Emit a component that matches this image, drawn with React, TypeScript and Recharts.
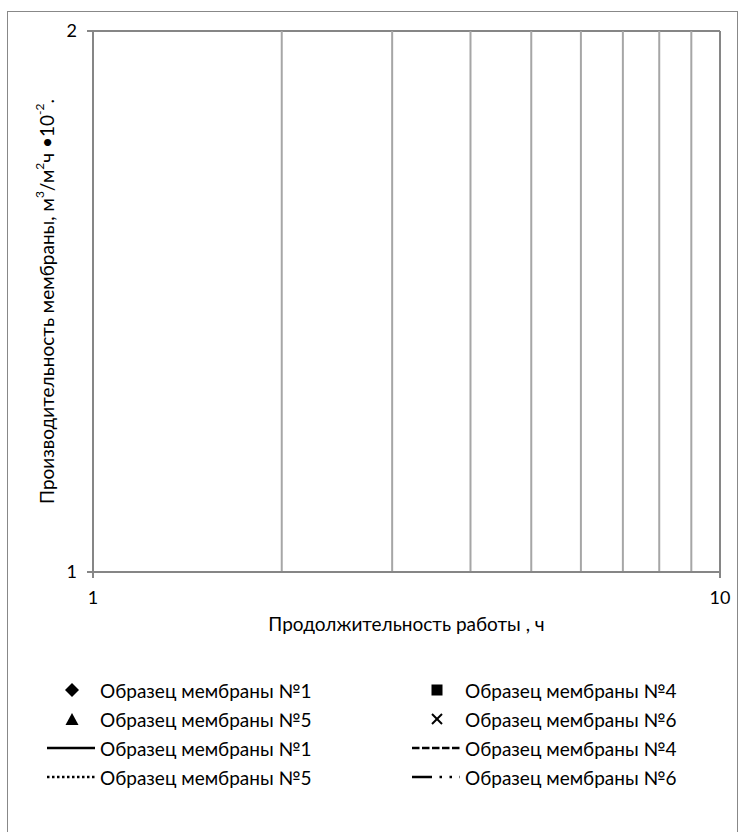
import React from 'react';
import {
  ComposedChart,
  Scatter,
  Line,
  XAxis,
  YAxis,
  CartesianGrid,
  ReferenceLine,
  Label,
} from 'recharts';

type Pt = { t: number; q: number };

// Series data (the reference plot shows no plotted values)
const sample1Points: Pt[] = [];
const sample4Points: Pt[] = [];
const sample5Points: Pt[] = [];
const sample6Points: Pt[] = [];
const sample1Trend: Pt[] = [];
const sample4Trend: Pt[] = [];
const sample5Trend: Pt[] = [];
const sample6Trend: Pt[] = [];

const xMajorTicks = [1, 10];
const xMinorTicks = [2, 3, 4, 5, 6, 7, 8, 9];
const yTicks = [1, 2];

const markerNames = [
  'Образец мембраны №1',
  'Образец мембраны №4',
  'Образец мембраны №5',
  'Образец мембраны №6',
];
const lineNames = [
  'Образец мембраны №1',
  'Образец мембраны №4',
  'Образец мембраны №5',
  'Образец мембраны №6',
];

const xTitle = 'Продолжительность работы , ч';

const FONT = 'Lato, Carlito, "Open Sans", sans-serif';
const FS = 19;
const TICK_FS = 18;
const AXIS = '#868686';
const MINOR = '#a6a6a6';

const markerData = [sample1Points, sample4Points, sample5Points, sample6Points];
const markerShapes = ['diamond', 'square', 'triangle', 'cross'] as const;
const lineData = [sample1Trend, sample4Trend, sample5Trend, sample6Trend];
const lineDashes = ['0', '7.5 2.5', '2.5 2.5', '20 7.5 2.5 7.5 2.5 7.5'];

function YTitle(props: any) {
  const vb = props.viewBox || { x: 0, y: 31, width: 93, height: 541 };
  const cx = vb.x + 46;
  const cy = vb.y + vb.height / 2;
  return (
    <text
      x={cx}
      y={cy}
      transform={`rotate(-90 ${cx} ${cy})`}
      textAnchor="middle"
      dominantBaseline="central"
      fontFamily={FONT}
      fontSize={FS}
      fill="#000"
    >
      <tspan>Производительность мембраны, м</tspan>
      <tspan dy={-7} fontSize={12}>3</tspan>
      <tspan dy={7}>/м</tspan>
      <tspan dy={-7} fontSize={12}>2</tspan>
      <tspan dy={7}>ч •10</tspan>
      <tspan dy={-7} fontSize={12}>-2</tspan>
      <tspan dy={7}>.</tspan>
    </text>
  );
}

function XTitle(props: any) {
  const vb = props.viewBox || { x: 93, y: 572, width: 627, height: 70 };
  return (
    <text
      x={vb.x + vb.width / 2}
      y={vb.y + 59}
      textAnchor="middle"
      fontFamily={FONT}
      fontSize={FS}
      fill="#000"
    >
      {xTitle}
    </text>
  );
}

function MarkerGlyph({ kind, cx, cy }: { kind: string; cx: number; cy: number }) {
  if (kind === 'diamond')
    return <polygon points={`${cx},${cy - 7} ${cx + 7},${cy} ${cx},${cy + 7} ${cx - 7},${cy}`} fill="#000" />;
  if (kind === 'square') return <rect x={cx - 5.5} y={cy - 5.5} width={11} height={11} fill="#000" />;
  if (kind === 'triangle')
    return <polygon points={`${cx},${cy - 6} ${cx + 6.5},${cy + 6} ${cx - 6.5},${cy + 6}`} fill="#000" />;
  return (
    <g stroke="#000" strokeWidth={2}>
      <line x1={cx - 5} y1={cy - 5} x2={cx + 5} y2={cy + 5} />
      <line x1={cx - 5} y1={cy + 5} x2={cx + 5} y2={cy - 5} />
    </g>
  );
}

function LegendBlock() {
  const colText = [100, 465];
  const rows = [690, 719, 748, 777];
  const items: React.ReactNode[] = [];
  markerNames.forEach((name, i) => {
    const col = i % 2;
    const row = Math.floor(i / 2);
    const tx = colText[col];
    const y = rows[row];
    items.push(
      <g key={'m' + i}>
        <MarkerGlyph kind={markerShapes[i]} cx={tx - 28} cy={y} />
        <text x={tx} y={y} dominantBaseline="central" fontFamily={FONT} fontSize={FS} fill="#000">
          {name}
        </text>
      </g>
    );
  });
  lineNames.forEach((name, i) => {
    const col = i % 2;
    const row = 2 + Math.floor(i / 2);
    const tx = colText[col];
    const y = rows[row];
    items.push(
      <g key={'l' + i}>
        <line
          x1={tx - 53}
          y1={y}
          x2={tx - 5}
          y2={y}
          stroke="#000"
          strokeWidth={2.5}
          strokeDasharray={lineDashes[i]}
        />
        <text x={tx} y={y} dominantBaseline="central" fontFamily={FONT} fontSize={FS} fill="#000">
          {name}
        </text>
      </g>
    );
  });
  return (
    <svg
      width={740}
      height={832}
      style={{ position: 'absolute', left: 0, top: 0, pointerEvents: 'none' }}
    >
      {items}
    </svg>
  );
}

export default function App() {
  return (
    <div
      style={{
        position: 'absolute',
        left: 0,
        top: 0,
        width: 740,
        height: 832,
        background: '#fff',
        overflow: 'hidden',
      }}
    >
      <div
        style={{
          position: 'absolute',
          left: 7,
          top: 11,
          width: 731,
          height: 840,
          border: '1px solid #888',
          boxSizing: 'border-box',
        }}
      />
      <div style={{ position: 'absolute', left: 0, top: 0 }}>
        <ComposedChart
          width={740}
          height={660}
          margin={{ top: 31, right: 20, left: 0, bottom: 18 }}
        >
          <CartesianGrid
            stroke={AXIS}
            strokeWidth={2}
            horizontalValues={yTicks}
            verticalValues={xMajorTicks}
          />
          {xMinorTicks.map((v) => (
            <ReferenceLine key={v} x={v} stroke={MINOR} strokeWidth={2} />
          ))}
          <XAxis
            dataKey="t"
            type="number"
            scale="log"
            domain={[1, 10]}
            ticks={xMajorTicks}
            allowDataOverflow
            height={70}
            stroke={AXIS}
            strokeWidth={2}
            tickSize={6}
            tickMargin={13}
            tick={{ fill: '#000', fontSize: TICK_FS, fontFamily: FONT }}
          >
            <Label content={XTitle} />
          </XAxis>
          <YAxis
            dataKey="q"
            type="number"
            scale="log"
            domain={[1, 2]}
            ticks={yTicks}
            allowDataOverflow
            width={93}
            stroke={AXIS}
            strokeWidth={2}
            tickSize={6}
            tickMargin={10}
            tick={{ fill: '#000', fontSize: TICK_FS, fontFamily: FONT }}
          >
            <Label content={YTitle} />
          </YAxis>
          {markerData.map((d, i) => (
            <Scatter
              key={'s' + i}
              name={markerNames[i]}
              data={d}
              fill="#000"
              shape={markerShapes[i]}
              isAnimationActive={false}
            />
          ))}
          {lineData.map((d, i) => (
            <Line
              key={'ln' + i}
              name={lineNames[i]}
              data={d}
              dataKey="q"
              stroke="#000"
              strokeWidth={2.5}
              strokeDasharray={lineDashes[i]}
              dot={false}
              isAnimationActive={false}
            />
          ))}
        </ComposedChart>
      </div>
      <LegendBlock />
    </div>
  );
}
